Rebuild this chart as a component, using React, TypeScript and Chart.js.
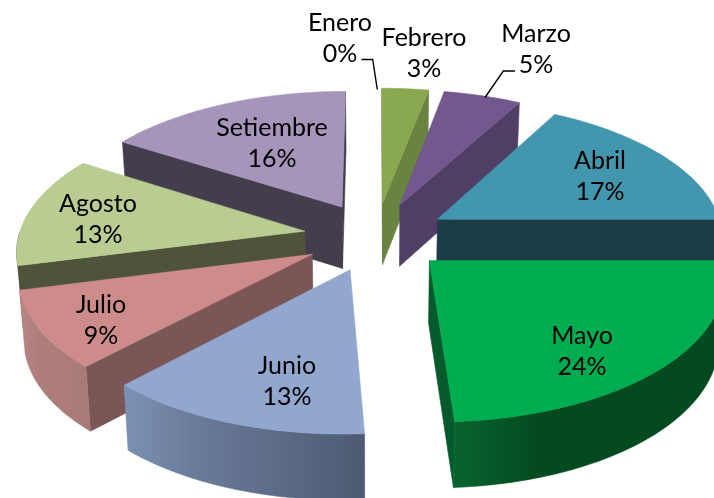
import React, { useEffect, useRef } from "react";
import { Chart, registerables } from "chart.js";

Chart.register(...registerables);

const months = ["Enero", "Febrero", "Marzo", "Abril", "Mayo", "Junio", "Julio", "Agosto", "Setiembre"];
const shares = [0, 3, 5, 17, 24, 13, 9, 13, 16];

const topColors = ["#4f81bd", "#8aa84f", "#72588e", "#4296ae", "#00ac50", "#91a7ce", "#cd8c8a", "#b9cc92", "#a695bb"];
const cutColors = ["#4f81bd", "#6b8340", "#503f65", "#1c3c49", "#045a2a", "#6a7a98", "#7b5656", "#4e5339", "#443e4c"];
const rimLeft = ["#4f81bd", "#6b8340", "#503f65", "#1c3c49", "#07642f", "#7c91b3", "#b88583", "#4e5339", "#443e4c"];
const rimMid = ["#4f81bd", "#6b8340", "#503f65", "#1c3c49", "#044a20", "#6a7b99", "#ae7e7c", "#4e5339", "#443e4c"];
const rimRight = ["#4f81bd", "#6b8340", "#503f65", "#1c3c49", "#044a20", "#4e5a72", "#a87a78", "#4e5339", "#443e4c"];

// label centres, first line baseline-middle
const labelX = [340, 424, 536, 600, 582, 287, 101, 98, 272];
const labelY = [23, 38, 34, 161, 336, 366, 305, 204, 128];

const leaderEnero = [[361.5, 59.5], [372.7, 59.5], [377.3, 89.5]];
const leaderMarzo = [[515, 71], [503.3, 71], [485, 97.5]];

// view of the pie plane
const view = { cx: 376, cy: 236.5, ax: 286, by: 136, persp: 0.119, depth: 62, taper: 0.016, skew: 3 };
const explodeOffset = 56;

function project(X: number, Y: number, z: number) {
  const s = 1 / (1 - view.persp * Y);
  const taper = 1 - view.taper * z;
  return [
    view.cx + view.ax * X * s * taper - view.skew * Math.max(Y, 0),
    view.cy + view.by * Y * s + view.depth * Math.pow(s, 0.4) * z,
  ];
}

function poly(ctx: CanvasRenderingContext2D, pts: number[][], fill: string | CanvasGradient) {
  ctx.beginPath();
  pts.forEach((p, i) => (i ? ctx.lineTo(p[0], p[1]) : ctx.moveTo(p[0], p[1])));
  ctx.closePath();
  ctx.fillStyle = fill;
  ctx.fill();
  ctx.strokeStyle = fill;
  ctx.lineWidth = 0.6;
  ctx.stroke();
}

const pie3d = {
  id: "pie3d",
  beforeDatasetDraw(chart: any) {
    const ctx: CanvasRenderingContext2D = chart.ctx;
    const arcs = chart.getDatasetMeta(0).data;
    const order = arcs
      .map((arc: any, i: number) => ({ arc, i }))
      .filter((o: any) => o.arc.endAngle - o.arc.startAngle > 1e-4)
      .sort((a: any, b: any) =>
        Math.sin((a.arc.startAngle + a.arc.endAngle) / 2) - Math.sin((b.arc.startAngle + b.arc.endAngle) / 2));
    ctx.save();
    ctx.beginPath();
    ctx.rect(0, 0, chart.width, chart.height);
    ctx.clip();
    for (const { arc, i } of order) {
      const { startAngle: a0, endAngle: a1, outerRadius: R } = arc;
      const mid = (a0 + a1) / 2;
      const e = arc.options.offset / R;
      const ox = e * Math.cos(mid);
      const oy = e * Math.sin(mid);
      const at = (a: number, r: number, z: number) =>
        project(ox + r * Math.cos(a), oy + r * Math.sin(a), z);
      const n = Math.max(8, Math.ceil(((a1 - a0) * 180) / Math.PI));
      const angles: number[] = [];
      for (let k = 0; k <= n; k++) angles.push(a0 + ((a1 - a0) * k) / n);

      // cut faces that look towards the viewer
      for (const [a, sign] of [[a0, -1], [a1, 1]]) {
        const A = at(a, 0, 0);
        const B = at(a, 1, 0);
        const C = at(a, 1, 1);
        const cross = (B[0] - A[0]) * (C[1] - A[1]) - (B[1] - A[1]) * (C[0] - A[0]);
        if (cross * sign > 0) poly(ctx, [A, B, C, at(a, 0, 1)], cutColors[i]);
      }
      // outer wall: only the part that faces the viewer
      const front = angles.filter((a) => Math.sin(a) >= -1e-6);
      if (front.length > 1) {
        const upper = front.map((a) => at(a, 1, 0));
        const lower = front.map((a) => at(a, 1, 1)).reverse();
        const xs = upper.map((p) => p[0]);
        const x0 = Math.min(...xs);
        const x1 = Math.max(...xs);
        const g = ctx.createLinearGradient(x0, 0, x1, 0);
        g.addColorStop(0, rimLeft[i]);
        g.addColorStop(0.3, rimMid[i]);
        g.addColorStop(1, rimRight[i]);
        poly(ctx, [...upper, ...lower], g);
      }
      // top face
      poly(ctx, [at(a0, 0, 0), ...angles.map((a) => at(a, 1, 0))], arc.options.backgroundColor);
    }
    ctx.restore();
    return false;
  },
  afterDraw(chart: any) {
    const ctx: CanvasRenderingContext2D = chart.ctx;
    const total = shares.reduce((p, q) => p + q, 0);
    ctx.save();
    ctx.strokeStyle = "#000";
    ctx.lineWidth = 1.4;
    for (const line of [leaderEnero, leaderMarzo]) {
      ctx.beginPath();
      line.forEach((p, i) => (i ? ctx.lineTo(p[0], p[1]) : ctx.moveTo(p[0], p[1])));
      ctx.stroke();
    }
    ctx.font = "25px Lato";
    ctx.fillStyle = "#000";
    ctx.textAlign = "center";
    ctx.textBaseline = "middle";
    chart.data.labels.forEach((name: string, i: number) => {
      ctx.fillText(name, labelX[i], labelY[i]);
      ctx.fillText(`${Math.round((shares[i] / total) * 100)}%`, labelX[i], labelY[i] + 31);
    });
    ctx.restore();
  },
};

export default function App() {
  const ref = useRef<HTMLCanvasElement>(null);
  useEffect(() => {
    document.body.style.margin = "0";
    document.body.style.background = "#fff";
    const chart = new Chart(ref.current!, {
      type: "pie",
      data: {
        labels: months,
        datasets: [{ data: shares, backgroundColor: topColors, borderWidth: 0, offset: explodeOffset }],
      },
      options: {
        animation: false,
        responsive: false,
        plugins: { legend: { display: false }, tooltip: { enabled: false } },
      },
      plugins: [pie3d],
    } as any);
    return () => chart.destroy();
  }, []);
  return <canvas ref={ref} width={714} height={498} style={{ display: "block" }} />;
}
